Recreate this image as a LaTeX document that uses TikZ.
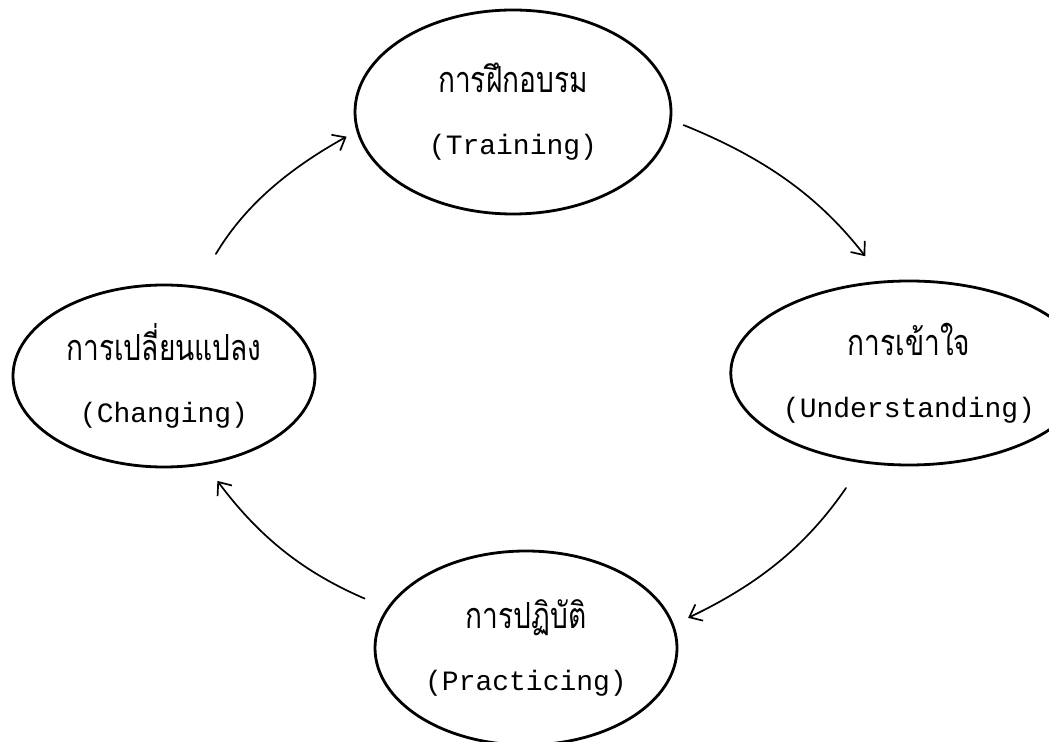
\documentclass[tikz,border=0pt]{standalone}
\usepackage{fontspec}
\usetikzlibrary{shapes.geometric,arrows.meta}
\newfontfamily\thaifont[Script=Thai, FakeStretch=0.78]{Loma}
\newfontfamily\engfont{Liberation Mono}
\newcommand{\thtxt}[1]{{\thaifont\fontsize{18}{31}\selectfont #1}}
\newcommand{\entxt}[1]{{\engfont #1}}
\begin{document}
\begin{tikzpicture}[x=0.5pt, y=-0.5pt, line join=round, line cap=round,
	stage/.style={draw, ellipse, line width=1.4pt, inner sep=0pt, align=center, font=\fontsize{14}{31}\selectfont},
	arr/.style={-{Straight Barb[length=5.5pt,width=9pt]}, line width=0.85pt}]
	\useasboundingbox (0,0) rectangle (1049,742);
	% Các bước
	\node[stage, minimum width=158pt, minimum height=102pt] (train) at (513,112) {\thtxt{การฝึกอบรม}\\\entxt{(Training)}};
	\node[stage, minimum width=136pt, minimum height=92pt] (under) at (909,373) {\thtxt{การเข้าใจ}\\\entxt{(Understanding)}};
	\node[stage, minimum width=151pt, minimum height=97pt] (prac) at (526,648) {\thtxt{การปฏิบัติ}\\\entxt{(Practicing)}};
	\node[stage, minimum width=151pt, minimum height=91pt] (chg) at (164,376) {\thtxt{การเปลี่ยนแปลง}\\\entxt{(Changing)}};
	% Mũi tên
	\draw[arr, shorten <=18.5pt, shorten >=5.6pt] (chg.70.5) to[bend left=15] (train.187.5);
	\draw[arr, shorten <=6.3pt, shorten >=15.4pt] (train.-3.4) to[bend left=15] (under.105.8);
	\draw[arr, shorten <=15pt, shorten >=7.8pt] (under.243.4) to[bend left=15] (prac.9.1);
	\draw[arr, shorten <=12pt, shorten >=10pt] (prac.164.1) to[bend left=15] (chg.-65.6);
\end{tikzpicture}
\end{document}
